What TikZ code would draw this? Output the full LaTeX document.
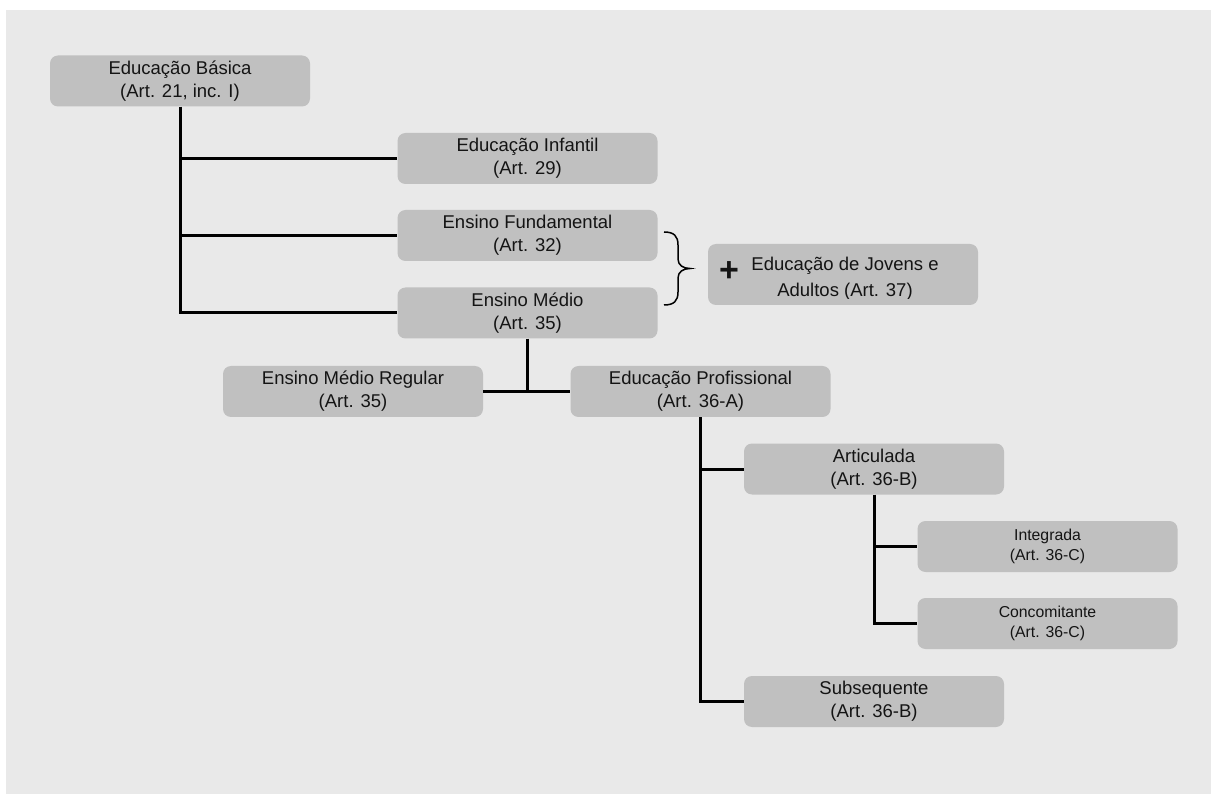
\documentclass[tikz,border=0pt]{standalone}
\usepackage{fontspec}
\setmainfont{Liberation Sans}
\definecolor{bggray}{HTML}{E9E9E9}
\definecolor{boxgray}{HTML}{C0C0C0}
\definecolor{txt}{HTML}{141414}
\begin{document}
\begin{tikzpicture}[x=1pt,y=-1pt,
  box/.style={fill=boxgray, rounded corners=8pt, minimum width=260pt, minimum height=51pt,
    inner sep=0pt, align=center, text=txt, font=\fontsize{18.5}{23}\selectfont},
  smallbox/.style={box, font=\fontsize{15.8}{19.5}\selectfont},
  conn/.style={draw=black, line width=3pt},
  bracestyle/.style={draw=black, line width=1.5pt},
  ]
\useasboundingbox (0,0) rectangle (1211,794);
\fill[bggray] (6,10) rectangle (1211,794);

\node[box] (eb) at (180,81) {Educação Básica\\(Art. 21, inc. I)};
\node[box] (ei) at (527.5,158.5) {Educação Infantil\\(Art. 29)};
\node[box] (ef) at (527.5,235.5) {Ensino Fundamental\\(Art. 32)};
\node[box] (em) at (527.5,313) {Ensino Médio\\(Art. 35)};
\node[box] (emr) at (353,391.5) {Ensino Médio Regular\\(Art. 35)};
\node[box] (ep) at (700.5,391.5) {Educação Profissional\\(Art. 36-A)};
\node[box] (art) at (874,469) {Articulada\\(Art. 36-B)};
\node[smallbox] (int) at (1047.5,546.5) {Integrada\\(Art. 36-C)};
\node[smallbox] (con) at (1047.5,623.5) {Concomitante\\(Art. 36-C)};
\node[box] (sub) at (874,701.5) {Subsequente\\(Art. 36-B)};

% EJA box
\node[fill=boxgray, rounded corners=8pt, minimum width=270pt, minimum height=61pt, inner sep=0pt] (eja) at (843,274.5) {};
\begin{scope}
  \clip (708,244) rectangle (978,298.5);
  \node[align=center, text=txt, font=\fontsize{18.5}{26}\selectfont, inner sep=0pt] (ejat) at (845,279) {Educação de Jovens e\\Adultos (Art. 37)};
\end{scope}
\node[font=\bfseries\fontsize{34}{34}\selectfont, text=txt, inner sep=0pt] (plus) at (729,272) {+};

% brace
\coordinate (bt) at (664,232);
\coordinate (bb) at (664,305);
\coordinate (btip) at (690,268.5);
\draw[bracestyle] (bt) .. controls (674,232) and (678,236) .. (678,245)
  -- (678,259) .. controls (678,265) and (683,268.5) .. (btip)
  .. controls (683,268.5) and (678,272) .. (678,278)
  -- (678,292) .. controls (678,301) and (674,305) .. (bb);

% connectors
\draw[conn] (eb.south) |- (em.west);
\draw[conn] (eb.south |- ei.west) -- (ei.west);
\draw[conn] (eb.south |- ef.west) -- (ef.west);
\draw[conn] (em.south) -- (em.south |- emr.east);
\draw[conn] (emr.east) -- (ep.west);
\draw[conn] (ep.south) |- (sub.west);
\draw[conn] (ep.south |- art.west) -- (art.west);
\draw[conn] (art.south) |- (con.west);
\draw[conn] (art.south |- int.west) -- (int.west);
\end{tikzpicture}
\end{document}
